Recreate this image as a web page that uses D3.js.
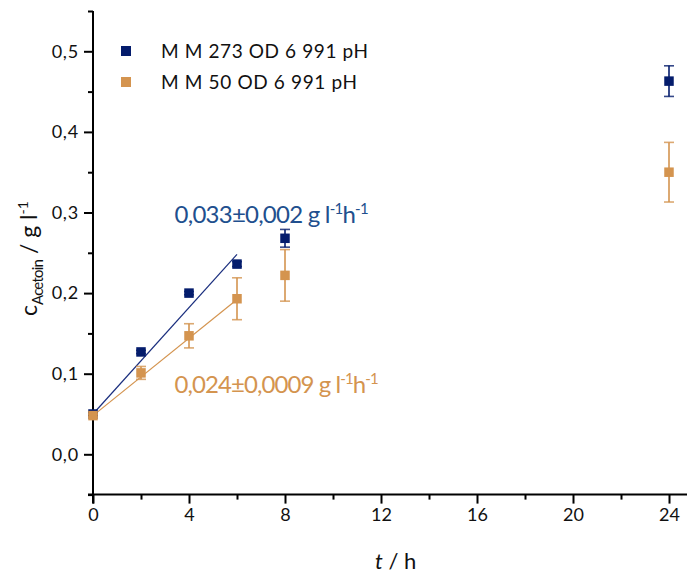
<!DOCTYPE html>
<html><head><meta charset="utf-8">
<script src="https://cdn.jsdelivr.net/npm/d3@7"></script>
<style>body{margin:0;background:#fff}svg{display:block}text{font-family:Lato,"Open Sans",sans-serif}</style>
</head><body><svg id="c" width="687" height="574"></svg>
<script>
const times = [0, 2, 4, 6, 8, 24];
const seriesNames = ["M M 273 OD 6 991 pH", "M M 50 OD 6 991 pH"];
const blueVals = [0.050, 0.127, 0.200, 0.236, 0.268, 0.463];
const blueErr = [0.001, 0.002, 0.002, 0.003, 0.011, 0.019];
const orangeVals = [0.048, 0.101, 0.147, 0.193, 0.222, 0.350];
const orangeErr = [0.002, 0.008, 0.015, 0.026, 0.032, 0.037];
const fitBlue = {slope: 0.033, intercept: 0.050, t0: 0, t1: 6, label: "0,033±0,002 g l", tAt: 3.4, yAt: 0.287};
const fitOrange = {slope: 0.024, intercept: 0.048, t0: 0, t1: 6, label: "0,024±0,0009 g l", tAt: 3.4, yAt: 0.076};
const xTicks = [0, 4, 8, 12, 16, 20, 24];
const xMinor = [2, 6, 10, 14, 18, 22];
const yTicks = [0.0, 0.1, 0.2, 0.3, 0.4, 0.5];
const yMinor = [-0.05, 0.05, 0.15, 0.25, 0.35, 0.45, 0.55];

const BLUE = "#041c6c", ORANGE = "#d4944f", BLUE_TXT = "#214f8e";
const svg = d3.select("#c");
const x = d3.scaleLinear().domain([0, 24.75]).range([93, 687]);
const y = d3.scaleLinear().domain([-0.05, 0.55]).range([494.6, 11]);
const fmt = d => d3.format(".1f")(d).replace(".", ",");

// axes
const xAxis = d3.axisBottom(x).tickValues(xTicks).tickSize(9).tickPadding(5).tickFormat(d3.format("d"));
const gx = svg.append("g").attr("transform", `translate(0,${y(-0.05)})`).call(xAxis);
gx.select(".domain").attr("d", `M88,0H687`).attr("stroke-width", 2);
gx.selectAll(".tick line").attr("stroke-width", 2);
gx.selectAll(".tick text").attr("font-size", 18).attr("fill", "#111");
svg.append("g").attr("transform", `translate(0,${y(-0.05)})`)
  .call(d3.axisBottom(x).tickValues(xMinor).tickSize(5).tickFormat(""))
  .call(g => g.select(".domain").remove())
  .selectAll(".tick line").attr("stroke-width", 2);

const yAxis = d3.axisLeft(y).tickValues(yTicks).tickSize(9).tickPadding(5).tickFormat(fmt);
const gy = svg.append("g").attr("transform", `translate(${x(0)},0)`).call(yAxis);
gy.select(".domain").attr("d", `M0,${y(0.55)}V${y(-0.05)+9}`).attr("stroke-width", 2);
gy.selectAll(".tick line").attr("stroke-width", 2);
gy.selectAll(".tick text").attr("font-size", 18).attr("fill", "#111").attr("letter-spacing", 0.8);
svg.append("g").attr("transform", `translate(${x(0)},0)`)
  .call(d3.axisLeft(y).tickValues(yMinor).tickSize(5).tickFormat(""))
  .call(g => g.select(".domain").remove())
  .selectAll(".tick line").attr("stroke-width", 2);

// fit lines
[[fitBlue, "#1a2e7e", BLUE_TXT, 194], [fitOrange, ORANGE, ORANGE, 204]].forEach(([f, lc, tc, w]) => {
  svg.append("line")
    .attr("x1", x(f.t0)).attr("y1", y(f.intercept + f.slope * f.t0))
    .attr("x2", x(f.t1)).attr("y2", y(f.intercept + f.slope * f.t1))
    .attr("stroke", lc).attr("stroke-width", 1.2);
  const t = svg.append("text").attr("x", x(f.tAt)).attr("y", y(f.yAt))
    .attr("font-size", 24).attr("fill", tc)
    .attr("textLength", w).attr("lengthAdjust", "spacing");
  t.append("tspan").text(f.label);
  t.append("tspan").attr("font-size", 15).attr("dy", -9).text("-1");
  t.append("tspan").attr("dy", 9).text("h");
  t.append("tspan").attr("font-size", 15).attr("dy", -9).text("-1");
});

// series
function drawSeries(vals, errs, color) {
  const g = svg.append("g");
  times.forEach((t, i) => {
    const cx = x(t), v = vals[i], e = errs[i];
    g.append("line").attr("x1", cx).attr("x2", cx).attr("y1", y(v - e)).attr("y2", y(v + e))
      .attr("stroke", color).attr("stroke-width", 1.6);
    [v - e, v + e].forEach(w => g.append("line").attr("x1", cx - 5).attr("x2", cx + 5)
      .attr("y1", y(w)).attr("y2", y(w)).attr("stroke", color).attr("stroke-width", 1.6).attr("opacity", 0.8));
  });
  g.selectAll("rect").data(times).join("rect")
    .attr("x", d => x(d) - 4.75).attr("y", (d, i) => y(vals[i]) - 4.75)
    .attr("width", 9.5).attr("height", 9.5).attr("fill", color);
}
drawSeries(blueVals, blueErr, BLUE);
drawSeries(orangeVals, orangeErr, ORANGE);

// legend
[[seriesNames[0], BLUE, 51, 207], [seriesNames[1], ORANGE, 82, 196]].forEach(([n, c, yy, w]) => {
  svg.append("rect").attr("x", 121).attr("y", yy - 5).attr("width", 10).attr("height", 10).attr("fill", c);
  svg.append("text").attr("x", 161).attr("y", yy + 7).attr("font-size", 19).attr("fill", "#111")
    .attr("textLength", w).attr("lengthAdjust", "spacing").text(n);
});

// axis titles
const xt = svg.append("text").attr("x", 375).attr("y", 569).attr("font-size", 22).attr("fill", "#111");
xt.append("tspan").attr("font-style", "italic").text("t");
xt.append("tspan").text(" / h");

const yt = svg.append("text").attr("transform", "translate(37,316) rotate(-90)")
  .attr("font-size", 23).attr("fill", "#111");
yt.append("tspan").text("c");
yt.append("tspan").attr("font-size", 15).attr("dy", 6).attr("letter-spacing", -0.8).text("Acetoin");
yt.append("tspan").attr("dy", -6).text(" / g l");
yt.append("tspan").attr("font-size", 14).attr("dy", -9).text("-1");
</script></body></html>
